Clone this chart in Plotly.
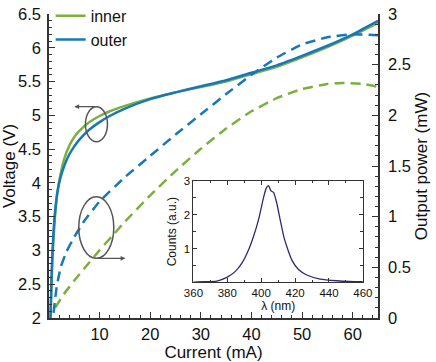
import plotly.graph_objects as go

# ---- data ----
cur_inner_v = [0.3, 0.5, 0.7, 1.0, 1.3, 1.7, 2.2, 3, 4, 5, 6, 8, 10, 12, 15, 20, 25, 30, 35, 40, 45, 50, 55, 60, 65]
volt_inner = [2.0, 2.5, 2.9, 3.3, 3.6, 3.88, 4.1, 4.35, 4.55, 4.68, 4.77, 4.9, 4.99, 5.06, 5.14, 5.25, 5.34, 5.42, 5.5, 5.61, 5.72, 5.86, 6.01, 6.18, 6.37]
cur_outer_v = [0.3, 0.5, 0.7, 1.0, 1.3, 1.7, 2.2, 3, 4, 5, 6, 8, 10, 12, 15, 20, 25, 30, 35, 40, 45, 50, 55, 60, 65]
volt_outer = [2.0, 2.6, 3.0, 3.4, 3.65, 3.88, 4.06, 4.25, 4.42, 4.54, 4.64, 4.79, 4.9, 4.99, 5.1, 5.24, 5.34, 5.43, 5.52, 5.63, 5.74, 5.88, 6.03, 6.2, 6.4]

cur_inner_p = [1.2, 3, 5, 7.5, 10, 12.5, 15, 20, 25, 30, 35, 40, 45, 50, 55, 58, 62, 65]
pow_inner = [0.1, 0.24, 0.37, 0.52, 0.67, 0.81, 0.95, 1.21, 1.45, 1.67, 1.87, 2.04, 2.17, 2.26, 2.31, 2.32, 2.31, 2.28]
cur_outer_p = [0.9, 1.5, 2.3, 3.5, 5, 7, 10, 15, 20, 25, 30, 35, 40, 45, 50, 55, 60, 65]
pow_outer = [0.05, 0.3, 0.5, 0.66, 0.8, 0.96, 1.15, 1.39, 1.6, 1.81, 2.01, 2.21, 2.4, 2.57, 2.7, 2.77, 2.8, 2.79]

wavelength = [360, 366, 373.8, 379.7, 384.6, 388.5, 392.5, 395.4, 398.4, 401.3, 402.9, 404.3, 405.7, 407.3, 409.2,
              411.2, 413.1, 415.1, 418.1, 422, 426.9, 434.8, 444.6, 452, 460]
counts = [0.01, 0.02, 0.04, 0.15, 0.32, 0.56, 0.96, 1.35, 1.85, 2.49, 2.78, 2.86, 2.71, 2.66, 2.34,
          1.85, 1.4, 1.06, 0.66, 0.38, 0.22, 0.1, 0.05, 0.03, 0.02]

x_ticks = [10, 20, 30, 40, 50, 60]
inset_x_ticks = [360, 380, 400, 420, 440, 460]
inset_y_ticks = [1, 2, 3]

GREEN = "#7BB03F"
BLUE = "#1778B8"
AX = "#333333"
FONT = "Liberation Sans, Arial, Helvetica, sans-serif"

fig = go.Figure()
fig.add_trace(go.Scatter(x=cur_inner_v, y=volt_inner, mode="lines", name="inner",
                         line=dict(color=GREEN, width=2.5, shape="spline", smoothing=0.6)))
fig.add_trace(go.Scatter(x=cur_outer_v, y=volt_outer, mode="lines", name="outer",
                         line=dict(color=BLUE, width=2.5, shape="spline", smoothing=0.6)))
fig.add_trace(go.Scatter(x=cur_inner_p, y=pow_inner, mode="lines", yaxis="y2", showlegend=False,
                         line=dict(color=GREEN, width=2.5, dash="10px,6px", shape="spline", smoothing=0.4)))
fig.add_trace(go.Scatter(x=cur_outer_p, y=pow_outer, mode="lines", yaxis="y2", showlegend=False,
                         line=dict(color=BLUE, width=2.5, dash="10px,6px", shape="spline", smoothing=0.4)))
fig.add_trace(go.Scatter(x=wavelength, y=counts, mode="lines", xaxis="x2", yaxis="y3", showlegend=False,
                         line=dict(color="#2E2A6E", width=1.3, shape="spline", smoothing=0.5)))

tickfont = dict(family=FONT, size=16.5, color="#111")
titlefont = dict(family=FONT, size=17, color="#111")
small = dict(family=FONT, size=11.5, color="#111")
fig.update_layout(
    width=436, height=362,
    margin=dict(l=49, r=58, t=14, b=44, autoexpand=False),
    paper_bgcolor="white", plot_bgcolor="white",
    font=dict(family=FONT, size=16, color="#111"),
    showlegend=True,
    legend=dict(x=0.005, y=1.05, xanchor="left", yanchor="top", bgcolor="rgba(0,0,0,0)",
                font=dict(family=FONT, size=16), tracegroupgap=0, itemwidth=30),
    xaxis=dict(range=[0, 65], tickvals=x_ticks, showline=True, linecolor=AX, linewidth=1.5,
               ticks="inside", ticklen=6, tickcolor=AX, showgrid=False, zeroline=False,
               minor=dict(dtick=2, tick0=0, ticks="inside", ticklen=3, tickcolor=AX),
               ticklabelstandoff=0,
               tickfont=tickfont, title=dict(text="Current (mA)", standoff=1, font=titlefont)),
    yaxis=dict(range=[2, 6.5], dtick=0.5, showline=True, linecolor=AX, linewidth=1.5,
               ticks="inside", ticklen=6, tickcolor=AX, showgrid=False, zeroline=False,
               minor=dict(dtick=0.1, ticks="inside", ticklen=3, tickcolor=AX),
               ticklabelstandoff=3,
               tickfont=tickfont, title=dict(text="Voltage (V)", standoff=3, font=titlefont)),
    yaxis2=dict(range=[0, 3], dtick=0.5, overlaying="y", side="right", showline=True, linecolor=AX,
                linewidth=1.5, ticks="inside", ticklen=6, tickcolor=AX, showgrid=False, zeroline=False,
                minor=dict(dtick=0.1, ticks="inside", ticklen=3, tickcolor=AX),
                ticklabelstandoff=5,
                tickfont=tickfont, title=dict(text="Output power (mW)", standoff=5, font=titlefont)),
    xaxis2=dict(domain=[0.439, 0.954], anchor="y3", range=[360, 460], tickvals=inset_x_ticks,
                showline=True, mirror="ticks", linecolor=AX, linewidth=1, ticks="inside", ticklen=4,
                tickcolor=AX, showgrid=False, zeroline=False,
                minor=dict(dtick=10, ticks="inside", ticklen=2.5, tickcolor=AX),
                tickfont=small,
                title=dict(text="λ (nm)", standoff=1, font=dict(family=FONT, size=12, color="#111"))),
    yaxis3=dict(domain=[0.117, 0.451], anchor="x2", range=[0, 3], tickvals=inset_y_ticks,
                showline=True, mirror="ticks", linecolor=AX, linewidth=1, ticks="inside", ticklen=4,
                tickcolor=AX, showgrid=False, zeroline=False,
                minor=dict(dtick=0.5, ticks="inside", ticklen=2.5, tickcolor=AX),
                tickfont=small,
                title=dict(text="Counts (a.u.)", standoff=4, font=dict(family=FONT, size=12, color="#111"))),
)

# ellipses marking which axis each curve group belongs to
fig.add_shape(type="circle", xref="x", yref="y", x0=7.2, x1=11.55, y0=4.61, y1=5.128,
              line=dict(color="#555", width=1.5))
fig.add_shape(type="circle", xref="x", yref="y", x0=5.88, x1=12.8, y0=2.884, y1=3.795,
              line=dict(color="#555", width=1.5))
fig.add_annotation(x=5.0, y=5.128, ax=9.4, ay=5.128, axref="x", ayref="y", xref="x", yref="y",
                   text="", showarrow=True, arrowhead=2, arrowsize=0.8, arrowwidth=1.2, arrowcolor="#555")
fig.add_annotation(x=15.1, y=2.884, ax=9.3, ay=2.884, axref="x", ayref="y", xref="x", yref="y",
                   text="", showarrow=True, arrowhead=2, arrowsize=0.8, arrowwidth=1.2, arrowcolor="#555")

fig.write_html("out.html")
